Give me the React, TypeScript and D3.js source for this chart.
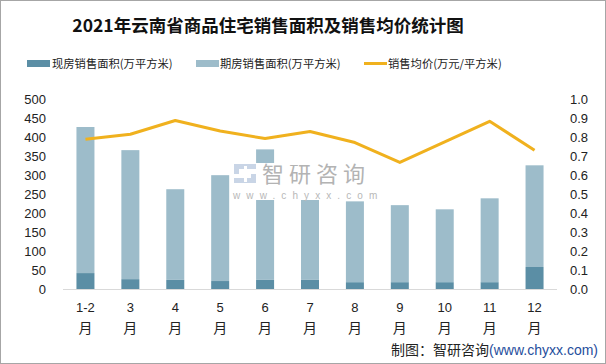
import { useRef, useEffect } from "react";
import * as d3 from "d3";

const months = ["1-2", "3", "4", "5", "6", "7", "8", "9", "10", "11", "12"];
const existingArea = [42, 26, 24, 21, 24, 24, 18, 18, 18, 18, 58];
const forwardArea = [385, 340, 239, 279, 344, 211, 213, 203, 192, 221, 268];
const avgPrice = [0.79, 0.816, 0.888, 0.833, 0.793, 0.83, 0.772, 0.667, 0.775, 0.884, 0.732];
const leftTicks = [0, 50, 100, 150, 200, 250, 300, 350, 400, 450, 500];
const rightTicks = [0, 0.1, 0.2, 0.3, 0.4, 0.5, 0.6, 0.7, 0.8, 0.9, 1.0];

const W = 606, H = 364;
const DARK = "#5b8ea5", LIGHT = "#9dbcca", LINE = "#f0b11e";
const numFont = "'Liberation Sans', Arial, sans-serif";
const cjkFont = "'Noto Sans CJK SC', sans-serif";

function drawChart(svgRef) {
    const svg = d3.select(svgRef.current);
    svg.selectAll("*").remove();
    svg.attr("width", W).attr("height", H).attr("viewBox", `0 0 ${W} ${H}`);

    const x0 = 63, x1 = 557, yTop = 99.3, yBot = 289;

    svg.append("rect").attr("x", 0.5).attr("y", 0.5).attr("width", W - 1).attr("height", H - 1)
        .attr("fill", "#fff").attr("stroke", "#a6a6a6");

    svg.append("text").attr("x", 268).attr("y", 32).attr("text-anchor", "middle")
        .attr("font-family", cjkFont).attr("font-weight", "bold").attr("font-size", 17.5)
        .attr("fill", "#111").text("2021年云南省商品住宅销售面积及销售均价统计图");

    // legend
    const lg = svg.append("g").attr("font-family", cjkFont).attr("font-size", 11.3).attr("fill", "#222");
    lg.append("rect").attr("x", 27).attr("y", 60).attr("width", 23).attr("height", 7).attr("fill", DARK);
    lg.append("text").attr("x", 52).attr("y", 68).text("现房销售面积(万平方米)");
    lg.append("rect").attr("x", 196).attr("y", 60).attr("width", 23).attr("height", 7).attr("fill", LIGHT);
    lg.append("text").attr("x", 220).attr("y", 68).text("期房销售面积(万平方米)");
    lg.append("line").attr("x1", 364).attr("x2", 387).attr("y1", 63.5).attr("y2", 63.5)
        .attr("stroke", LINE).attr("stroke-width", 3);
    lg.append("text").attr("x", 388).attr("y", 68).text("销售均价(万元/平方米)");

    const x = d3.scaleBand().domain(months).range([x0, x1]);
    const yL = d3.scaleLinear().domain([0, 500]).range([yBot, yTop]);
    const yR = d3.scaleLinear().domain([0, 1]).range([yBot, yTop]);

    const bw = 18;
    const cx = (m) => x(m) + x.bandwidth() / 2;

    const g = svg.append("g");
    months.forEach((m, i) => {
        const base = existingArea[i];
        g.append("rect").attr("x", cx(m) - bw / 2).attr("width", bw)
            .attr("y", yL(base)).attr("height", yL(0) - yL(base)).attr("fill", DARK);
        g.append("rect").attr("x", cx(m) - bw / 2).attr("width", bw)
            .attr("y", yL(base + forwardArea[i])).attr("height", yL(base) - yL(base + forwardArea[i]))
            .attr("fill", LIGHT);
    });

    svg.append("line").attr("x1", x0).attr("x2", x1).attr("y1", yBot + 0.5).attr("y2", yBot + 0.5)
        .attr("stroke", "#d9d9d9");

    // watermark
    const wm = svg.append("g");
    wm.append("rect").attr("x", 231).attr("y", 163).attr("width", 146).attr("height", 37).attr("fill", "#fff");
    wm.append("path").attr("d", "M234,164h22v5h-17v5h17v9h-22v-5h17v-4h-17z").attr("fill", "#c9d5e6");
    wm.append("rect").attr("x", 244).attr("y", 166).attr("width", 3).attr("height", 16).attr("fill", "#fff");
    wm.append("text").attr("x", 262).attr("y", 182).attr("font-family", cjkFont).attr("font-size", 22)
        .attr("fill", "#b3b3b3").attr("letter-spacing", 5).text("智研咨询");
    wm.append("text").attr("x", 233).attr("y", 199).attr("font-family", numFont).attr("font-size", 10)
        .attr("fill", "#b8b8b8").attr("letter-spacing", 6.1).text("www.chyxx.com");

    const line = d3.line().x((d, i) => cx(months[i])).y((d) => yR(d));
    svg.append("path").datum(avgPrice).attr("d", line).attr("fill", "none")
        .attr("stroke", LINE).attr("stroke-width", 3).attr("stroke-linejoin", "round");

    // axes labels
    const ax = svg.append("g").attr("font-family", numFont).attr("font-size", 13).attr("fill", "#222");
    leftTicks.forEach((t) => {
        ax.append("text").attr("x", 46).attr("y", yL(t) + 4.5).attr("text-anchor", "end").text(t);
    });
    rightTicks.forEach((t) => {
        ax.append("text").attr("x", 570).attr("y", yR(t) + 4.5).text(t.toFixed(1));
    });
    months.forEach((m) => {
        ax.append("text").attr("x", cx(m)).attr("y", 312).attr("text-anchor", "middle").text(m);
        ax.append("text").attr("x", cx(m)).attr("y", 333).attr("text-anchor", "middle")
            .attr("font-family", cjkFont).attr("font-size", 14).text("月");
    });

    const ft = svg.append("text").attr("x", 598).attr("y", 355).attr("text-anchor", "end")
        .attr("font-family", cjkFont).attr("font-size", 14).attr("fill", "#222");
    ft.append("tspan").text("制图：智研咨询");
    ft.append("tspan").attr("fill", "#1f4e9c").attr("font-family", numFont).text("(www.chyxx.com)");
}

export default function App() {
    const svg = useRef(null);
    useEffect(() => {
        drawChart(svg);
    }, [svg]);

    return <svg ref={svg} style={{ position: "absolute", left: 0, top: 0 }} />;
}
